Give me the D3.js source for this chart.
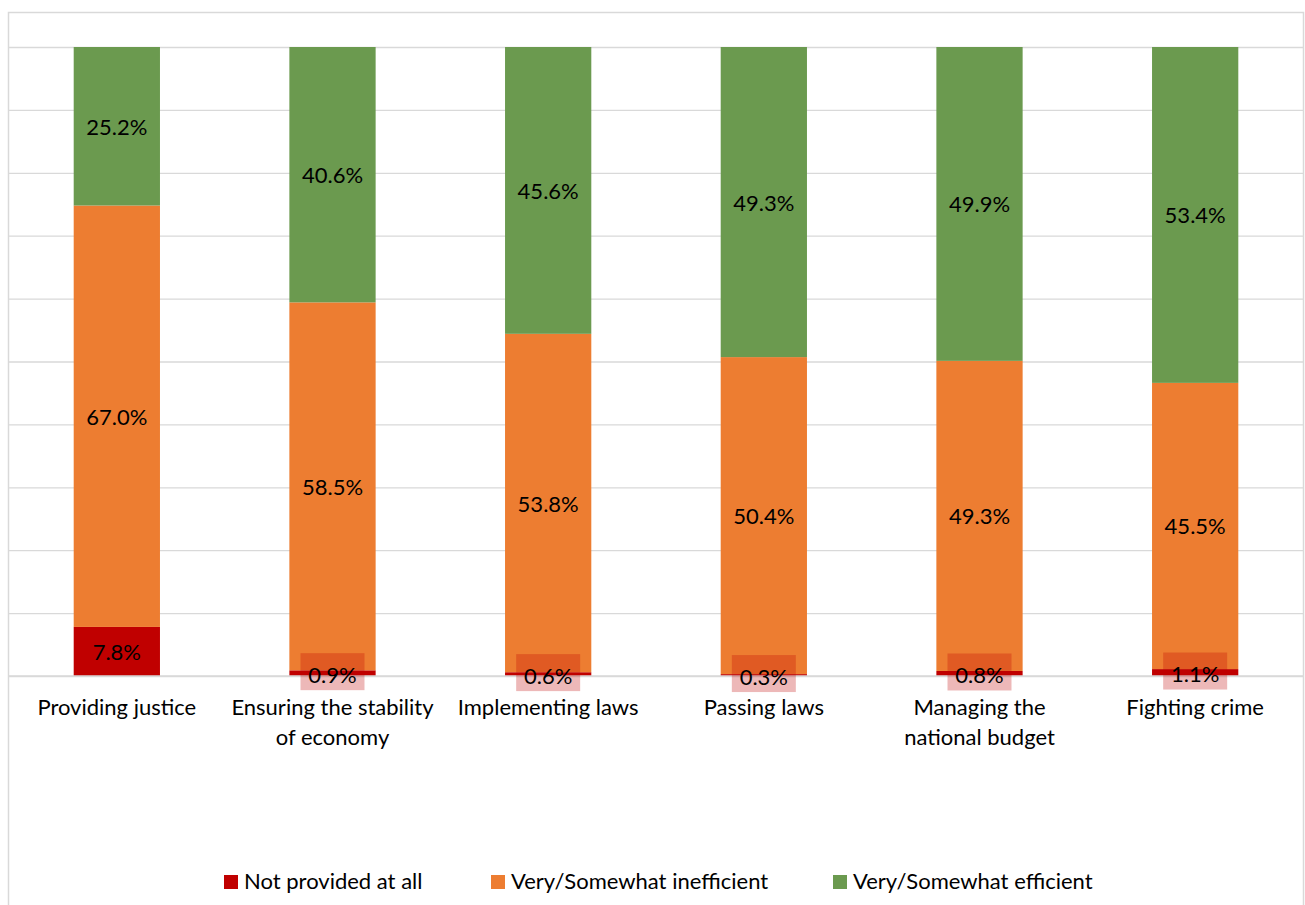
<!DOCTYPE html>
<html>
<head>
<meta charset="utf-8">
<script src="https://cdn.jsdelivr.net/npm/d3@7"></script>
<style>
  html, body { margin: 0; padding: 0; background: #fff; }
  svg { display: block; }
  text { font-family: Lato, "Open Sans", sans-serif; fill: #000; }
</style>
</head>
<body>
<svg id="chart" width="1305" height="905"></svg>
<script>
// ---- Data ----
const categories = ["Providing justice", "Ensuring the stability of economy", "Implementing laws", "Passing laws", "Managing the national budget", "Fighting crime"];
const seriesNames = ["Not provided at all", "Very/Somewhat inefficient", "Very/Somewhat efficient"];
const notProvided = [7.8, 0.9, 0.6, 0.3, 0.8, 1.1];
const inefficient = [67.0, 58.5, 53.8, 50.4, 49.3, 45.5];
const efficient = [25.2, 40.6, 45.6, 49.3, 49.9, 53.4];
const yTicks = [0, 10, 20, 30, 40, 50, 60, 70, 80, 90, 100];

const colors = ["#C00000", "#ED7D31", "#6B9A4F"];
const FONT = 22;

const svg = d3.select("#chart");
const plotLeft = 9, plotRight = 1303, plotTop = 47, plotBottom = 676;

const x = d3.scaleBand().domain(categories).range([plotLeft, plotRight]).paddingInner(0.6).paddingOuter(0.3);
const y = d3.scaleLinear().domain([0, 100]).range([plotBottom, plotTop]);

// chart border
svg.append("rect")
  .attr("x", 8.5).attr("y", 12.5)
  .attr("width", 1295).attr("height", 920)
  .attr("fill", "none").attr("stroke", "#d9d9d9").attr("stroke-width", 1.5);

// gridlines
const yAxis = d3.axisLeft(y).tickValues(yTicks).tickSize(-(plotRight - plotLeft)).tickFormat("");
const gGrid = svg.append("g").attr("transform", `translate(${plotLeft},0)`).call(yAxis);
gGrid.select(".domain").remove();
gGrid.selectAll(".tick line").attr("stroke", "#d9d9d9").attr("stroke-width", 1.3);

// stacked data
const rows = categories.map((c, i) => ({ cat: c, s0: notProvided[i], s1: inefficient[i], s2: efficient[i] }));
const stack = d3.stack().keys(["s0", "s1", "s2"]);
const stacked = stack(rows);

const gBars = svg.append("g");
stacked.forEach((layer, li) => {
  gBars.selectAll(null).data(layer).enter().append("rect")
    .attr("x", d => x(d.data.cat))
    .attr("width", x.bandwidth())
    .attr("y", d => y(d[1]))
    .attr("height", d => y(d[0]) - y(d[1]))
    .attr("fill", colors[li]);
});

// x axis line
const xAxis = d3.axisBottom(x).tickSize(0).tickFormat("");
const gX = svg.append("g").attr("transform", `translate(0,${plotBottom})`).call(xAxis);
gX.select(".domain").attr("stroke", "#d9d9d9").attr("stroke-width", 1.5)
  .attr("d", `M${plotLeft},0H${plotRight}`);

// data labels
const gLabels = svg.append("g");
stacked.forEach((layer, li) => {
  layer.forEach(d => {
    const v = d[1] - d[0];
    const cx = x(d.data.cat) + x.bandwidth() / 2;
    const cy = (y(d[0]) + y(d[1])) / 2;
    const txt = v.toFixed(1) + "%";
    if (v < 3) {
      gLabels.append("rect")
        .attr("x", cx - 32).attr("y", cy - 20)
        .attr("width", 64).attr("height", 37)
        .attr("fill", "#C00000").attr("fill-opacity", 0.28);
    }
    gLabels.append("text")
      .attr("x", cx).attr("y", cy + (v < 3 ? 1 : 0))
      .attr("text-anchor", "middle")
      .attr("dominant-baseline", "central")
      .style("font-size", FONT + "px")
      .text(txt);
  });
});

// category labels with wrapping
const lineH = 30;
function wrapWords(text, maxW) {
  const words = text.split(" ");
  const lines = [];
  let cur = "";
  const tmp = svg.append("text").style("font-size", FONT + "px");
  words.forEach(w => {
    const test = cur ? cur + " " + w : w;
    tmp.text(test);
    if (tmp.node().getComputedTextLength() > maxW && cur) {
      lines.push(cur); cur = w;
    } else cur = test;
  });
  if (cur) lines.push(cur);
  tmp.remove();
  return lines;
}
const gCats = svg.append("g");
categories.forEach(c => {
  const lines = wrapWords(c, 208);
  const t = gCats.append("text")
    .attr("text-anchor", "middle")
    .style("font-size", FONT + "px");
  lines.forEach((ln, i) => {
    t.append("tspan")
      .attr("x", x(c) + x.bandwidth() / 2)
      .attr("y", 715 + i * lineH)
      .text(ln);
  });
});

// legend
const legendX = [224, 491, 833];
const gLeg = svg.append("g");
seriesNames.forEach((s, i) => {
  gLeg.append("rect").attr("x", legendX[i]).attr("y", 875).attr("width", 14).attr("height", 14).attr("fill", colors[i]);
  gLeg.append("text").attr("x", legendX[i] + 20).attr("y", 889)
    .style("font-size", FONT + "px").text(s);
});
</script>
</body>
</html>
